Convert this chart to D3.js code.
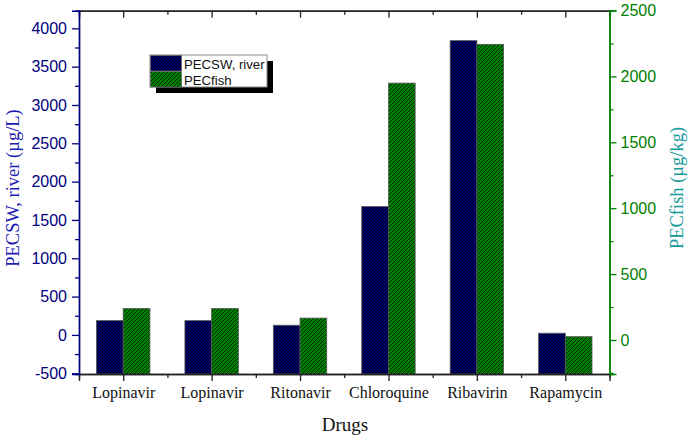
<!DOCTYPE html>
<html>
<head>
<meta charset="utf-8">
<script src="https://cdn.jsdelivr.net/npm/d3@7"></script>
<style>
  html, body { margin: 0; padding: 0; background: #fff; }
  svg { display: block; }
</style>
</head>
<body>
<svg id="chart" width="689" height="437"></svg>
<script>
const categories = ["Lopinavir", "Lopinavir", "Ritonavir", "Chloroquine", "Ribavirin", "Rapamycin"];
const pecSW = [186, 186, 126, 1674, 3839, 22];
const pecFish = [239, 239, 166, 1949, 2243, 25];
const leftTicks = [-500, 0, 500, 1000, 1500, 2000, 2500, 3000, 3500, 4000];
const rightTicks = [0, 500, 1000, 1500, 2000, 2500];
const seriesNames = ["PECSW, river", "PECfish"];

const svg = d3.select("#chart");
const X0 = 79, X1 = 609.5, YT = 10.7, YB = 374;
const fmt = d => String(d);

const defs = svg.append("defs");
const pb = defs.append("pattern").attr("id", "hatchBlue").attr("patternUnits", "userSpaceOnUse")
  .attr("width", 3.2).attr("height", 3.2);
pb.append("rect").attr("width", 3.2).attr("height", 3.2).attr("fill", "#000080");
pb.append("path").attr("d", "M0,0 L3.2,3.2 M3.2,0 L0,3.2").attr("stroke", "#000018").attr("stroke-width", 0.7);
const pg = defs.append("pattern").attr("id", "hatchGreen").attr("patternUnits", "userSpaceOnUse")
  .attr("width", 4).attr("height", 4);
pg.append("rect").attr("width", 4).attr("height", 4).attr("fill", "#008000");
pg.append("path").attr("d", "M-1,1 L1,-1 M0,4 L4,0 M3,5 L5,3").attr("stroke", "#001a00").attr("stroke-width", 0.9);

const x = d3.scaleBand().domain(d3.range(categories.length)).range([X0, X1]).padding(0);
const yL = d3.scaleLinear().domain([-510, 4230]).range([YB, YT]);
const yR = d3.scaleLinear().domain([-258, 2500]).range([YB, 10.5]);
const bw = x.bandwidth() * 0.302;

// bars
const g = svg.append("g");
g.selectAll("rect.sw").data(pecSW).join("rect").attr("class", "sw")
  .attr("x", (d, i) => x(i) + x.bandwidth() / 2 - bw)
  .attr("width", bw)
  .attr("y", d => yL(d))
  .attr("height", d => YB - yL(d))
  .attr("fill", "url(#hatchBlue)").attr("stroke", "#555").attr("stroke-width", 0.8);
g.selectAll("rect.fish").data(pecFish).join("rect").attr("class", "fish")
  .attr("x", (d, i) => x(i) + x.bandwidth() / 2)
  .attr("width", bw)
  .attr("y", d => yR(d))
  .attr("height", d => YB - yR(d))
  .attr("fill", "url(#hatchGreen)").attr("stroke", "#555").attr("stroke-width", 0.8);

// x axes (bottom & top)
const centers = d3.range(categories.length).map(i => x(i) + x.bandwidth() / 2);
const bounds = d3.range(1, categories.length).map(i => x(i));
const xc = d3.scaleLinear().domain([X0, X1]).range([X0, X1]);

function xAxisGroup(yPos, dir) {
  const major = (dir === "bottom" ? d3.axisBottom(xc) : d3.axisTop(xc))
    .tickValues(centers).tickSize(dir === "bottom" ? 7 : -7).tickFormat((d, i) => dir === "bottom" ? categories[i] : "").tickPadding(6);
  const minor = (dir === "bottom" ? d3.axisBottom(xc) : d3.axisTop(xc))
    .tickValues(bounds).tickSize(dir === "bottom" ? 4 : -4).tickFormat("");
  const gm = svg.append("g").attr("transform", `translate(0,${yPos})`).call(major);
  const gn = svg.append("g").attr("transform", `translate(0,${yPos})`).call(minor);
  [gm, gn].forEach(s => {
    s.select(".domain").attr("stroke", "#222").attr("stroke-width", 1.4);
    s.selectAll(".tick line").attr("stroke", "#222").attr("stroke-width", 1.3);
  });
  gm.selectAll(".tick text").attr("fill", "#111").attr("font-family", "'Liberation Serif', 'Times New Roman', serif").attr("font-size", 16);
}
xAxisGroup(YB, "bottom");
xAxisGroup(YT, "top");

// left axis
const minorL = d3.range(-500, 4250, 250).filter(v => v % 500 !== 0);
const la = svg.append("g").attr("transform", `translate(${X0},0)`)
  .call(d3.axisLeft(yL).tickValues(leftTicks).tickSize(7).tickPadding(5).tickFormat(fmt));
const lam = svg.append("g").attr("transform", `translate(${X0},0)`)
  .call(d3.axisLeft(yL).tickValues(minorL).tickSize(4).tickFormat(""));
[la, lam].forEach(s => {
  s.select(".domain").attr("stroke", "#000080").attr("stroke-width", 1.4);
  s.selectAll(".tick line").attr("stroke", "#000080").attr("stroke-width", 1.3);
});
la.selectAll(".tick text").attr("fill", "#000080").attr("font-family", "'Liberation Sans', Arial, sans-serif").attr("font-size", 16);

// right axis
const minorR = d3.range(-250, 2500, 500);
const ra = svg.append("g").attr("transform", `translate(${X1},0)`)
  .call(d3.axisRight(yR).tickValues(rightTicks).tickSize(7).tickPadding(4).tickFormat(fmt));
const ram = svg.append("g").attr("transform", `translate(${X1},0)`)
  .call(d3.axisRight(yR).tickValues(minorR).tickSize(4).tickFormat(""));
[ra, ram].forEach(s => {
  s.select(".domain").attr("stroke", "#008000").attr("stroke-width", 1.4);
  s.selectAll(".tick line").attr("stroke", "#008000").attr("stroke-width", 1.3);
});
ra.selectAll(".tick text").attr("fill", "#008000").attr("font-family", "'Liberation Sans', Arial, sans-serif").attr("font-size", 16);

// axis titles
svg.append("text").attr("transform", "translate(19,188) rotate(-90)")
  .attr("text-anchor", "middle").attr("font-family", "'Liberation Serif', 'Times New Roman', serif")
  .attr("font-size", 18.5).attr("fill", "#1c1cb4").text("PECSW, river (µg/L)");
svg.append("text").attr("transform", "translate(683,188) rotate(-90)")
  .attr("text-anchor", "middle").attr("font-family", "'Liberation Serif', 'Times New Roman', serif")
  .attr("font-size", 18.5).attr("fill", "#159a9a").text("PECfish (µg/kg)");
svg.append("text").attr("x", 345).attr("y", 431)
  .attr("text-anchor", "middle").attr("font-family", "'Liberation Serif', 'Times New Roman', serif")
  .attr("font-size", 19).attr("fill", "#111").text("Drugs");

// legend
const lg = svg.append("g");
lg.append("rect").attr("x", 156).attr("y", 61).attr("width", 117).attr("height", 32).attr("fill", "#000");
lg.append("rect").attr("x", 150).attr("y", 55).attr("width", 117).attr("height", 32).attr("fill", "#fff").attr("stroke", "#888").attr("stroke-width", 1);
const fills = ["url(#hatchBlue)", "url(#hatchGreen)"];
seriesNames.forEach((name, i) => {
  lg.append("rect").attr("x", 150.5).attr("y", 55.5 + i * 16).attr("width", 31).attr("height", 15.5)
    .attr("fill", fills[i]).attr("stroke", "#666").attr("stroke-width", 0.8);
  lg.append("text").attr("x", 184).attr("y", 68.5 + i * 16).attr("font-family", "'Liberation Sans', Arial, sans-serif")
    .attr("font-size", 13.2).attr("fill", "#111").text(name);
});
</script>
</body>
</html>
